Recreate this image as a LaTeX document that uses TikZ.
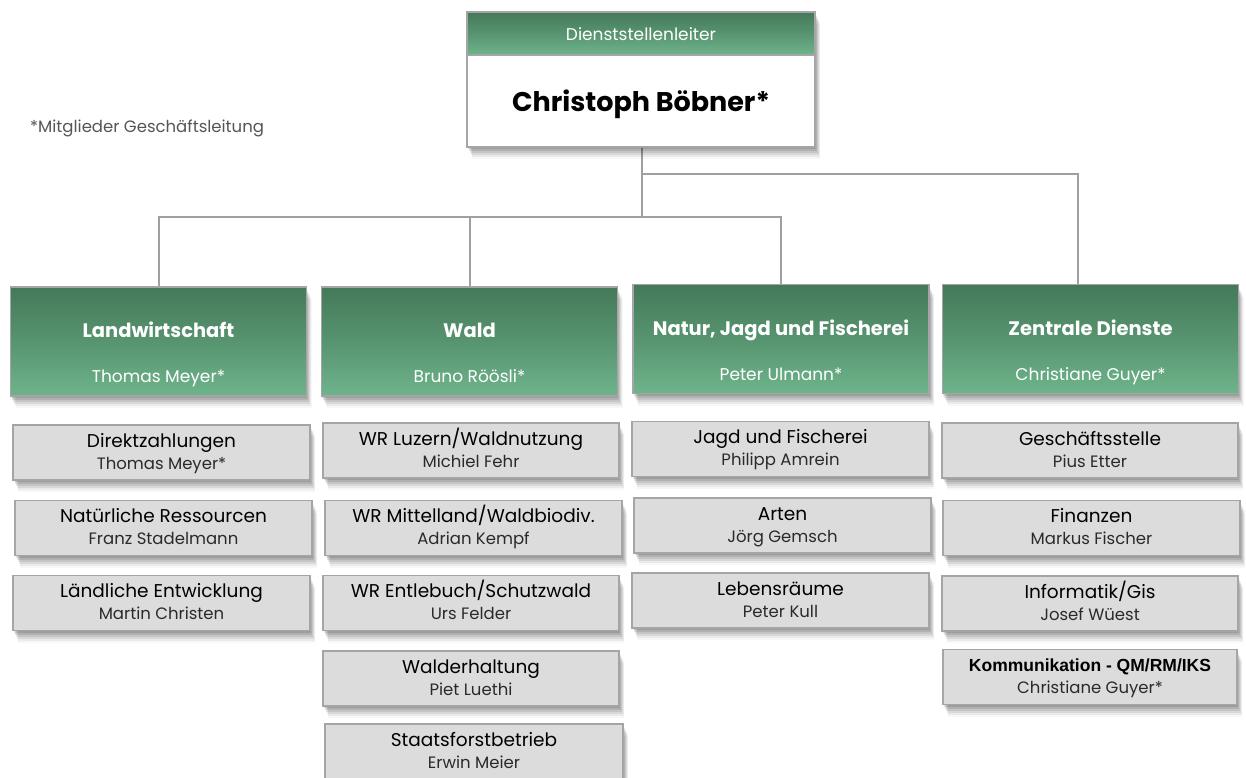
\documentclass[tikz,border=0pt]{standalone}
\usepackage{fontspec}
\setmainfont{Poppins}
\newfontfamily\arialfont{Liberation Sans}
\usetikzlibrary{calc}
\definecolor{gdark}{HTML}{457959}
\definecolor{gmid}{HTML}{579470}
\definecolor{glight}{HTML}{6EB48B}
\definecolor{gfill}{HTML}{DCDCDC}
\definecolor{gborder}{HTML}{A5A5A5}
\definecolor{lineg}{HTML}{A0A0A0}
\definecolor{namec}{HTML}{2A2A2A}
\definecolor{fnc}{HTML}{555555}
\tikzset{
  shad/.style={
    preaction={fill=black, fill opacity=0.10, transform canvas={xshift=0.5pt, yshift=-2pt}},
    preaction={fill=black, fill opacity=0.10, transform canvas={xshift=1.5pt, yshift=-4pt}},
    preaction={fill=black, fill opacity=0.09, transform canvas={xshift=2.5pt, yshift=-6pt}},
    preaction={fill=black, fill opacity=0.07, transform canvas={xshift=3.5pt, yshift=-8pt}},
    preaction={fill=black, fill opacity=0.05, transform canvas={xshift=4.5pt, yshift=-10pt}},
    preaction={fill=black, fill opacity=0.03, transform canvas={xshift=5pt, yshift=-12pt}}},
  subbox/.style={draw=gborder, line width=1.3pt, fill=gfill, shad, inner sep=0pt, minimum height=55pt},
  subtitle/.style={anchor=base, inner sep=0pt, text=black, font=\fontsize{18.5}{22}\selectfont},
  subname/.style={anchor=base, inner sep=0pt, text=namec, font=\fontsize{16.5}{20}\selectfont},
  deptbox/.style={draw=gborder, line width=1.3pt, top color=gdark, bottom color=glight, middle color=gmid,
    shad, inner sep=0pt, minimum width=296pt, minimum height=109pt},
  depttitle/.style={anchor=base, text=white, font=\fontsize{19.5}{22}\selectfont\bfseries},
  deptname/.style={anchor=base, text=white, font=\fontsize{17}{20}\selectfont},
  conn/.style={draw=lineg, line width=2pt},
}
\newcommand{\unit}[5]{%
  \node[subbox, minimum width=#3pt] (#1) at (#2) {};
  \node[subtitle] (#1t) at ($(#1.north)+(0,23)$) {#4};
  \node[subname] (#1n) at ($(#1.north)+(0,45)$) {#5};
}
\begin{document}
\begin{tikzpicture}[x=1pt, y=-1pt]
\useasboundingbox (0,0) rectangle (1246,778);
\fill[white] (0,0) rectangle (1246,778);

% connectors
\coordinate (jA) at (642,174);
\coordinate (jB) at (642,217);
\coordinate (zdin) at (1078,285);
\coordinate (topbot) at (642,147);
\draw[conn] (topbot) -- (jB);
\draw[conn] (jA) -| (zdin);

% top box
\node[draw=gborder, line width=1.3pt, fill=white, shad, minimum width=348pt, minimum height=135pt, inner sep=0pt] (top) at (641,79.5) {};
\node[draw=gborder, line width=1.3pt, top color=gdark, bottom color=glight, middle color=gmid, minimum width=348pt, minimum height=43pt, inner sep=0pt] (hdr) at (641,33.5) {};
\node[anchor=base, text=white, font=\fontsize{17}{20}\selectfont] (hdrt) at (641,41) {Dienststellenleiter};
\node[anchor=base, text=black, font=\fontsize{27}{32}\selectfont\bfseries] (chief) at (641,112) {Christoph Böbner*};

% footnote
\node[anchor=base west, text=fnc, font=\fontsize{16.5}{20}\selectfont, inner sep=0pt] (fn) at (30,133) {*Mitglieder Geschäftsleitung};

% department boxes
\node[deptbox] (lw) at (158.5,341.5) {};
\node[deptbox] (wa) at (469.5,341.5) {};
\node[deptbox] (nj) at (781,339) {};
\node[deptbox] (zd) at (1090.5,339) {};

\draw[conn] (lw.north) |- (jB) -| (nj.north);
\draw[conn] (wa.north) -- (wa.north |- jB);

\node[depttitle] (lwt) at (158.5,337) {Landwirtschaft};
\node[deptname] (lwn) at (158.5,382) {Thomas Meyer*};
\node[depttitle] (wat) at (469.5,337) {Wald};
\node[deptname] (wan) at (469.5,382) {Bruno Röösli*};
\node[depttitle] (njt) at (781,335) {Natur, Jagd und Fischerei};
\node[deptname] (njn) at (781,380) {Peter Ulmann*};
\node[depttitle] (zdt) at (1090.5,335) {Zentrale Dienste};
\node[deptname] (zdn) at (1090.5,380) {Christiane Guyer*};

% Landwirtschaft sub-units
\unit{lw1}{161.5,452.5}{297}{Direktzahlungen}{Thomas Meyer*}
\unit{lw2}{163.5,528}{297}{Natürliche Ressourcen}{Franz Stadelmann}
\unit{lw3}{161.5,603}{297}{Ländliche Entwicklung}{Martin Christen}

% Wald sub-units
\unit{wa1}{471,450.5}{296}{WR Luzern/Waldnutzung}{Michiel Fehr}
\unit{wa2}{473.5,528}{297}{WR Mittelland/Waldbiodiv.}{Adrian Kempf}
\unit{wa3}{471,603}{296}{WR Entlebuch/Schutzwald}{Urs Felder}
\unit{wa4}{471,678.5}{296}{Walderhaltung}{Piet Luethi}
\unit{wa5}{474,751.5}{298}{Staatsforstbetrieb}{Erwin Meier}

% Natur sub-units
\unit{nj1}{780.5,449}{297}{Jagd und Fischerei}{Philipp Amrein}
\unit{nj2}{782.5,525.5}{297}{Arten}{Jörg Gemsch}
\unit{nj3}{780.5,600.5}{297}{Lebensräume}{Peter Kull}

% Zentrale Dienste sub-units
\unit{zd1}{1090,450.5}{296}{Geschäftsstelle}{Pius Etter}
\unit{zd2}{1091.5,528}{297}{Finanzen}{Markus Fischer}
\unit{zd3}{1090,603.5}{296}{Informatik/Gis}{Josef Wüest}
\unit{zd4}{1090,677}{294}{{\arialfont\fontsize{17.5}{20}\selectfont\bfseries Kommunikation - QM/RM/IKS}}{Christiane Guyer*}
\end{tikzpicture}
\end{document}
